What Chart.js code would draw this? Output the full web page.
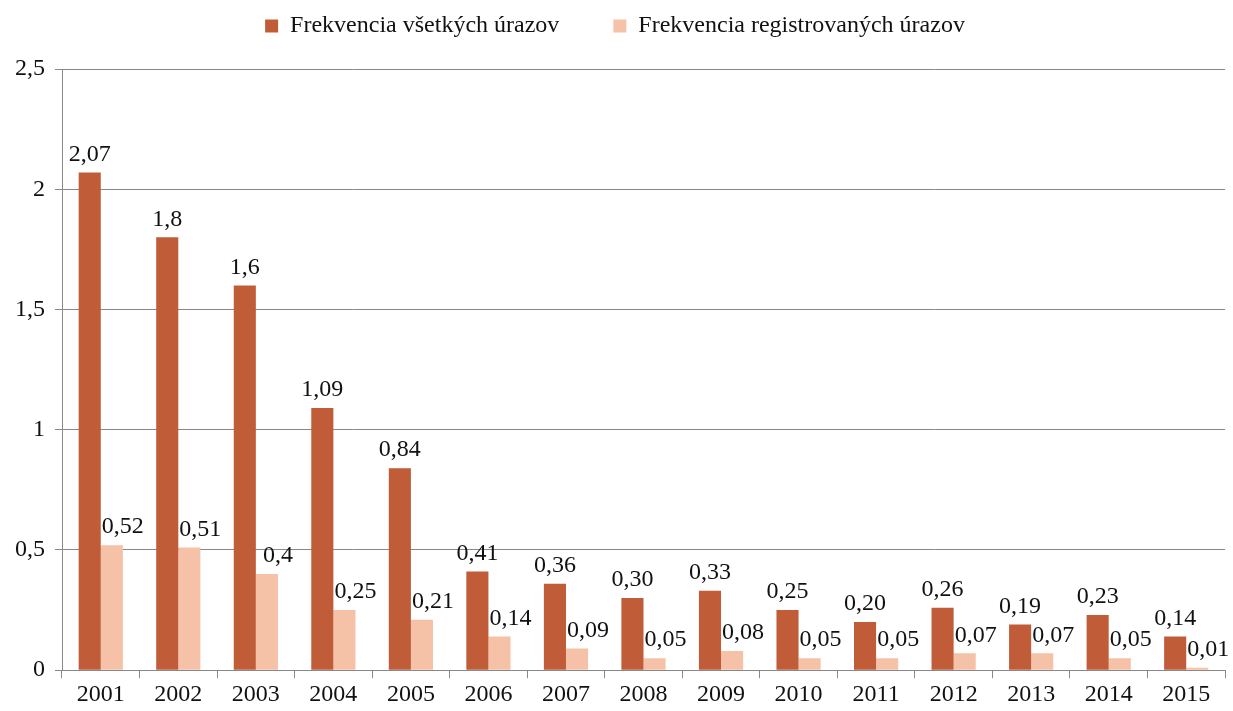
<!DOCTYPE html>
<html>
<head>
<meta charset="utf-8">
<script src="https://cdn.jsdelivr.net/npm/chart.js@4/dist/chart.umd.min.js"></script>
<style>
  html, body { margin: 0; padding: 0; background: #fff; }
  #wrap { width: 1233px; height: 711px; }
</style>
</head>
<body>
<div id="wrap"><canvas id="graf"></canvas></div>
<script>
// Údaje z grafu
const roky = ['2001', '2002', '2003', '2004', '2005', '2006', '2007', '2008', '2009', '2010', '2011', '2012', '2013', '2014', '2015'];
const vsetkyUrazy = [2.07, 1.8, 1.6, 1.09, 0.84, 0.41, 0.36, 0.30, 0.33, 0.25, 0.20, 0.26, 0.19, 0.23, 0.14];
const registrovaneUrazy = [0.52, 0.51, 0.4, 0.25, 0.21, 0.14, 0.09, 0.05, 0.08, 0.05, 0.05, 0.07, 0.07, 0.05, 0.01];
const popisyVsetky = ['2,07', '1,8', '1,6', '1,09', '0,84', '0,41', '0,36', '0,30', '0,33', '0,25', '0,20', '0,26', '0,19', '0,23', '0,14'];
const popisyRegistrovane = ['0,52', '0,51', '0,4', '0,25', '0,21', '0,14', '0,09', '0,05', '0,08', '0,05', '0,05', '0,07', '0,07', '0,05', '0,01'];
const osY = [0, 0.5, 1, 1.5, 2, 2.5];

const PISMO = '"Liberation Serif", "DejaVu Serif", serif';

// popisky hodnôt nad stĺpcami
const popiskyPlugin = {
    id: 'popisky',
    afterDatasetsDraw(chart) {
        const ctx = chart.ctx;
        const texty = [popisyVsetky, popisyRegistrovane];
        const posun = [0, 11];
        ctx.save();
        ctx.font = '24px ' + PISMO;
        ctx.fillStyle = '#111';
        ctx.textAlign = 'center';
        ctx.textBaseline = 'bottom';
        chart.data.datasets.forEach((ds, i) => {
            const meta = chart.getDatasetMeta(i);
            meta.data.forEach((bar, j) => {
                ctx.fillText(texty[i][j], bar.x + posun[i], bar.y - 6);
            });
        });
        ctx.restore();
    }
};

// legenda: väčšia medzera medzi položkami, ale pevná výška
const legendaVyska = {
    id: 'legendaVyska',
    afterInit(chart) {
        const lg = chart.legend;
        const povodny = lg.fit;
        lg.fit = function () {
            povodny.call(this);
            this.height = 109;
        };
    }
};

new Chart(document.getElementById('graf').getContext('2d'), {
    type: 'bar',
    data: {
        labels: roky,
        datasets: [{
            label: 'Frekvencia všetkých úrazov',
            data: vsetkyUrazy,
            backgroundColor: '#C05C37',
            borderWidth: 0
        }, {
            label: 'Frekvencia registrovaných úrazov',
            data: registrovaneUrazy,
            backgroundColor: '#F5C2A7',
            borderWidth: 0
        }]
    },
    options: {
        responsive: true,
        maintainAspectRatio: false,
        animation: false,
        layout: { padding: { left: 5, right: 8, top: -40, bottom: 0 } },
        datasets: {
            bar: { categoryPercentage: 0.57, barPercentage: 1.0 }
        },
        plugins: {
            legend: {
                position: 'top',
                labels: {
                    font: { family: PISMO, size: 24 },
                    color: '#111',
                    boxWidth: 13,
                    boxHeight: 13,
                    padding: 54
                }
            },
            tooltip: { enabled: false }
        },
        scales: {
            x: {
                grid: {
                    offset: true,
                    drawOnChartArea: false,
                    drawTicks: true,
                    tickLength: 8,
                    color: '#888'
                },
                border: { color: '#888', width: 1 },
                ticks: {
                    font: { family: PISMO, size: 24 },
                    color: '#111',
                    padding: 2,
                    maxRotation: 0
                }
            },
            y: {
                min: 0,
                max: 2.5,
                afterBuildTicks: (os) => { os.ticks = osY.map(v => ({ value: v })); },
                grid: {
                    color: '#888',
                    tickLength: 7,
                    lineWidth: 1
                },
                border: { color: '#888', width: 1 },
                ticks: {
                    font: { family: PISMO, size: 24 },
                    color: '#111',
                    padding: 10,
                    callback: (v) => String(v).replace('.', ',')
                }
            }
        }
    },
    plugins: [popiskyPlugin, legendaVyska]
});
</script>
</body>
</html>
